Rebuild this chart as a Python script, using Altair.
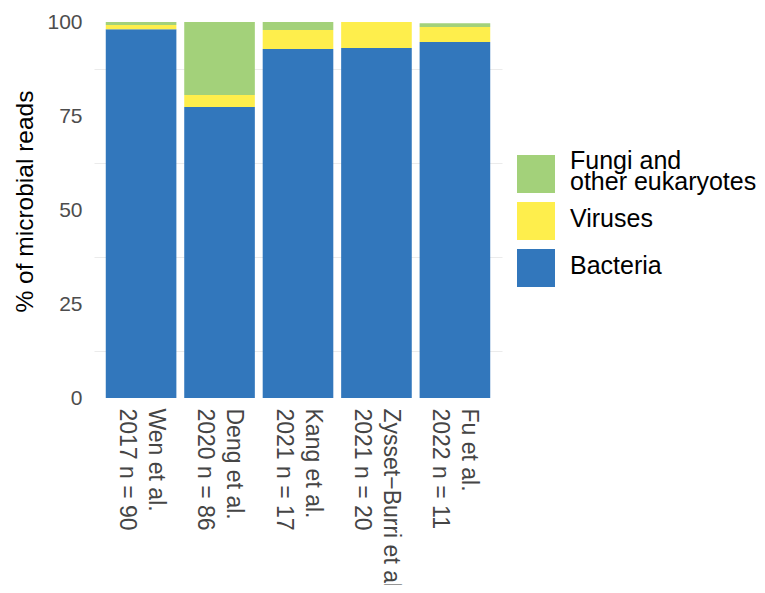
import altair as alt
import pandas as pd

studies = ["Wen et al.|2017 n = 90", "Deng et al.|2020 n = 86", "Kang et al.|2021 n = 17",
           "Zysset\u2212Burri et al.|2021 n = 20", "Fu et al.|2022 n = 11"]
bacteria = [98.1, 77.4, 92.8, 93.1, 94.7]
viruses = [1.1, 3.2, 5.1, 6.9, 4.0]
fungi = [0.8, 19.4, 2.1, 0.0, 1.0]

groups = ["Fungi and other eukaryotes", "Viruses", "Bacteria"]
colors = ["#A3D17A", "#FEEE4C", "#3277BC"]
stack_rank = {"Bacteria": 0, "Viruses": 1, "Fungi and other eukaryotes": 2}

rows = []
for i, s in enumerate(studies):
    for g, vals in (("Bacteria", bacteria), ("Viruses", viruses), ("Fungi and other eukaryotes", fungi)):
        rows.append({"study": s, "group": g, "pct": vals[i], "rank": stack_rank[g]})
df = pd.DataFrame(rows)

FONT = "Liberation Sans"

legend_label_expr = ("datum.label == 'Fungi and other eukaryotes' ? "
                     "['Fungi and', '\u2800', 'other eukaryotes'] : ['\u00a0', datum.label, '\u00a0']")

chart = alt.Chart(df).mark_bar().encode(
    x=alt.X("study:N", sort=studies, title=None,
            scale=alt.Scale(paddingInner=0.1, paddingOuter=0.15),
            axis=alt.Axis(labelAngle=90, labelAlign="left", labelBaseline="middle",
                          labelExpr="split(datum.label, '|')", labelLineHeight=29,
                          labelOffset=14.5,
                          labelFontSize=23, labelColor="#454545", labelPadding=10,
                          labelLimit=400, domain=False, ticks=False, grid=False)),
    y=alt.Y("pct:Q", stack="zero", title="% of microbial reads",
            scale=alt.Scale(domain=[0, 100], nice=False),
            axis=alt.Axis(values=[0, 12.5, 25, 37.5, 50, 62.5, 75, 87.5, 100],
                          labelExpr="datum.value % 25 == 0 ? datum.label : ''",
                          labelFontSize=21, labelColor="#4D4D4D", labelPadding=12,
                          domain=False, ticks=False, grid=True,
                          gridColor={"condition": {"test": "datum.value % 25 == 0", "value": "transparent"},
                                     "value": "#EBEBEB"},
                          gridWidth=1.2,
                          titleFontSize=24.5, titleFontWeight="normal", titleColor="#000000",
                          titleX=-62, titleY=179, titleAngle=-90, titleAlign="center",
                          titleBaseline="alphabetic")),
    color=alt.Color("group:N", scale=alt.Scale(domain=groups, range=colors),
                    legend=alt.Legend(title=None, orient="none", legendX=423, legendY=133,
                                      symbolType="square", symbolSize=1444, symbolStrokeWidth=0,
                                      symbolOpacity=1, rowPadding=1, labelOffset=15,
                                      labelFontSize=25, labelColor="#000000", padding=0,
                                      labelBaseline="bottom",
                                      labelExpr=legend_label_expr, labelLimit=300)),
    order=alt.Order("rank:Q", sort="ascending"),
).properties(
    width=408, height=376,
    autosize=alt.AutoSizeParams(type="none"),
    padding={"left": 86, "top": 14, "right": 255, "bottom": 187},
).configure(
    font=FONT,
    style={"guide-label": {"lineHeight": 10.5}},
).configure_view(stroke=None)

chart.save("out.html", embed_options={"renderer": "svg", "actions": False})
